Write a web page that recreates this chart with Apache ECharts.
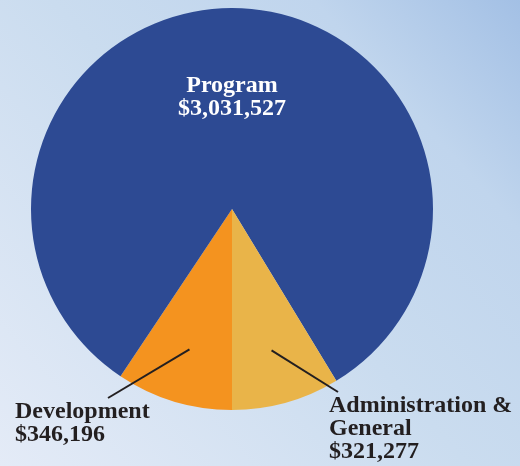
<!DOCTYPE html>
<html>
<head>
<meta charset="utf-8">
<script src="https://cdn.jsdelivr.net/npm/echarts@6/dist/echarts.min.js"></script>
<style>
  html, body { margin: 0; padding: 0; }
  #main { width: 520px; height: 466px; }
</style>
</head>
<body>
<div id="main"></div>
<script>
// 数据
var names = ['Development', 'Program', 'Administration &\nGeneral'];
var values = [346196, 3031527, 321277];
var colors = ['#f4931f', '#2d4a93', '#e9b449'];

var cx = 232, cy = 209, R = 201;
var total = 0;
for (var i = 0; i < values.length; i++) {
	total += values[i];
}

function fmt(v) {
	return '$' + v.toLocaleString('en-US');
}

// 扇区中线上的点 (起点在6点钟方向, 顺时针)
function midPoint(idx, k) {
	var before = 0;
	for (var i = 0; i < idx; i++) before += values[i];
	var m = (before + values[idx] / 2) / total;
	var a = (-90 - 360 * m) * Math.PI / 180;
	return [cx + k * R * Math.cos(a), cy - k * R * Math.sin(a)];
}

// 标签位置
var labelPos = [
	{ x: 15, y: 400, align: 'left', end: [108, 398] },
	{ x: 232, y: 97, align: 'center' },
	{ x: 329, y: 394, align: 'left', end: [338, 392] }
];

var data = [];
for (var i = 0; i < names.length; i++) {
	var inside = i == 1;
	data.push({
		name: names[i],
		value: values[i],
		itemStyle: { color: colors[i] },
		label: {
			position: inside ? 'inside' : 'outside',
			color: inside ? '#ffffff' : '#231f20'
		},
		labelLine: { show: false }
	});
}

// 引导线 (画在扇区上面)
var lines = [];
for (var i = 0; i < labelPos.length; i++) {
	if (!labelPos[i].end) continue;
	lines.push({
		type: 'polyline',
		z: 10,
		shape: { points: [midPoint(i, 0.73), labelPos[i].end] },
		style: { stroke: '#231f20', lineWidth: 2, fill: null }
	});
}

var myChart = echarts.init(document.getElementById('main'));

var option = {
	backgroundColor: {
		type: 'linear', x: 0, y: 1, x2: 1, y2: 0,
		colorStops: [
			{ offset: 0, color: '#e4ebf7' },
			{ offset: 0.5, color: '#cadcef' },
			{ offset: 0.78, color: '#c0d5ed' },
			{ offset: 1, color: '#a3c0e5' }
		]
	},
	animation: false,
	graphic: lines,
	series: [{
		type: 'pie',
		center: [cx, cy],
		radius: R,
		startAngle: -90,
		clockwise: true,
		avoidLabelOverlap: false,
		itemStyle: { borderWidth: 0 },
		label: {
			show: true,
			fontFamily: 'Liberation Serif',
			fontWeight: 'bold',
			fontSize: 24,
			lineHeight: 23,
			formatter: function (p) {
				return p.name + '\n' + fmt(p.value);
			}
		},
		labelLayout: function (p) {
			var lp = labelPos[p.dataIndex];
			return {
				x: lp.x,
				y: lp.y,
				align: lp.align,
				verticalAlign: p.dataIndex == 1 ? 'middle' : 'top'
			};
		},
		data: data
	}]
};

myChart.setOption(option);
</script>
</body>
</html>
